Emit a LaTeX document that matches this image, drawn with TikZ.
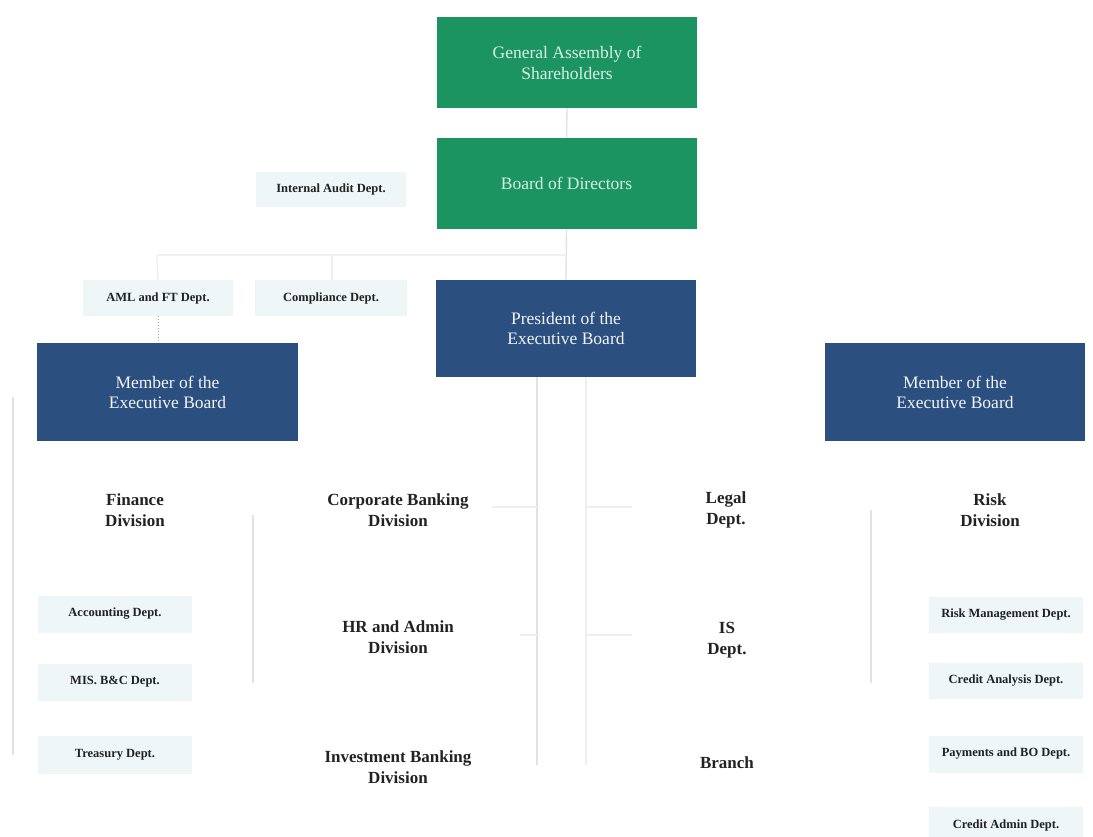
\documentclass[tikz,border=0pt]{standalone}
\usepackage{fontspec}
\setmainfont{Liberation Serif}
\definecolor{bggreen}{HTML}{1B9462}
\definecolor{txtgreen}{HTML}{D6F0E2}
\definecolor{bgblue}{HTML}{2B4F7F}
\definecolor{txtblue}{HTML}{F2F4F8}
\definecolor{lightfill}{HTML}{EEF6F8}
\definecolor{linegray}{HTML}{E2E2E2}
\definecolor{darktext}{HTML}{222222}
\begin{document}
\begin{tikzpicture}[x=1pt,y=-1pt,
  greenbox/.style={fill=bggreen, text=txtgreen, minimum width=260pt, minimum height=91pt, align=center, inner sep=0pt, font=\fontsize{17.5}{21}\selectfont},
  bluebox/.style={fill=bgblue, text=txtblue, minimum width=260pt, minimum height=97pt, align=center, inner sep=0pt, font=\fontsize{17.5}{20}\selectfont},
  deptbox/.style={fill=lightfill, text=darktext, minimum width=152pt, minimum height=36pt, align=center, inner sep=0pt, font=\bfseries\fontsize{12.5}{14}\selectfont},
  divtext/.style={text=darktext, align=center, inner sep=0pt, font=\bfseries\fontsize{17}{21}\selectfont},
  conn/.style={draw=linegray, line width=1.4pt},
  fconn/.style={draw=linegray!55, line width=1.4pt},
  dotconn/.style={draw=gray!70, line width=1pt, dotted}]
\useasboundingbox (0,0) rectangle (1093,836);
\fill[white] (0,0) rectangle (1093,836);

% connector coordinates
\coordinate (hl) at (157,255);
\coordinate (hr) at (566,255);
\coordinate (cmpt) at (332,255);
\coordinate (lv1) at (13,397);
\coordinate (lv2) at (13,755);
\coordinate (mv1) at (253,515);
\coordinate (mv2) at (253,683);
\coordinate (pv1a) at (537,377);
\coordinate (pv1b) at (537,765);
\coordinate (pv2a) at (586,377);
\coordinate (pv2b) at (586,765);
\coordinate (h1a) at (492,507);
\coordinate (h1b) at (537,507);
\coordinate (h2a) at (586,507);
\coordinate (h2b) at (632,507);
\coordinate (h3a) at (520,635);
\coordinate (h3b) at (537,635);
\coordinate (h4a) at (586,635);
\coordinate (h4b) at (632,635);
\coordinate (rv1) at (871,510);
\coordinate (rv2) at (871,683);

% top boxes
\node[greenbox] (ga) at (567,62.5) {General Assembly of\\Shareholders};
\node[greenbox] (bod) at (566.5,183.5) {Board of Directors};
\node[bluebox] (pres) at (566,328.5) {President of the\\Executive Board};
\node[deptbox, minimum width=150pt, minimum height=35pt] (ia) at (331,189) {Internal Audit Dept.};
\node[deptbox, minimum width=150pt] (aml) at (158,298) {AML and FT Dept.};
\node[deptbox] (comp) at (331,298) {Compliance Dept.};
\node[bluebox, minimum width=261pt, minimum height=98pt] (lmem) at (167.5,392) {Member of the\\Executive Board};
\node[bluebox, minimum height=98pt] (rmem) at (955,392) {Member of the\\Executive Board};

% connectors
\draw[conn] (ga.south) -- (bod.north);
\draw[conn] (bod.south) -- (pres.north);
\draw[fconn] (hl) -- (hr);
\draw[fconn] (hl) -- (aml.north);
\draw[fconn] (cmpt) -- (comp.north -| cmpt);
\draw[dotconn] (aml.south) -- (lmem.north -| aml.south);
\draw[conn] (lv1) -- (lv2);
\draw[conn] (mv1) -- (mv2);
\draw[conn] (pv1a) -- (pv1b);
\draw[fconn] (pv2a) -- (pv2b);
\draw[fconn] (h1a) -- (h1b);
\draw[fconn] (h2a) -- (h2b);
\draw[fconn] (h3a) -- (h3b);
\draw[fconn] (h4a) -- (h4b);
\draw[conn] (rv1) -- (rv2);

% divisions
\node[divtext] (fin) at (135,510) {Finance\\Division};
\node[divtext] (corp) at (398,510) {Corporate Banking\\Division};
\node[divtext] (legal) at (726,510) {Legal\\Dept.};
\node[divtext] (risk) at (990,510) {Risk\\Division};
\node[divtext] (hrad) at (398,637) {HR and Admin\\Division};
\node[divtext] (isd) at (727,640) {IS\\Dept.};
\node[divtext] (inv) at (398,767) {Investment Banking\\Division};
\node[divtext] (branch) at (727,763) {Branch};

% departments
\node[deptbox, minimum width=154pt, minimum height=37pt] (acc) at (115,614) {Accounting Dept.};
\node[deptbox, minimum width=154pt, minimum height=37pt] (mis) at (115,682) {MIS. B\&C Dept.};
\node[deptbox, minimum width=154pt, minimum height=38pt] (tre) at (115,755) {Treasury Dept.};
\node[deptbox, minimum width=154pt] (rmd) at (1006,615) {Risk Management Dept.};
\node[deptbox, minimum width=154pt] (cad) at (1006,681) {Credit Analysis Dept.};
\node[deptbox, minimum width=154pt, minimum height=37pt] (pay) at (1006,754) {Payments and BO Dept.};
\node[deptbox, minimum width=154pt] (cadm) at (1006,825) {Credit Admin Dept.};
\end{tikzpicture}
\end{document}
